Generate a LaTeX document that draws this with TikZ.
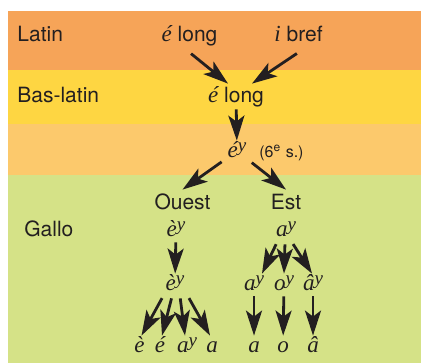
\documentclass[tikz,border=0pt]{standalone}
\usepackage{fontspec}
\setmainfont{TeX Gyre Heros}
\newfontfamily\formfont{Liberation Serif}
\usetikzlibrary{arrows.meta}

\definecolor{ink}{RGB}{35,31,32}
\definecolor{latinband}{RGB}{246,164,88}
\definecolor{baslatinband}{RGB}{254,214,66}
\definecolor{midband}{RGB}{252,201,108}
\definecolor{galloband}{RGB}{213,226,135}

\newcommand\vform[1]{{\formfont\itshape\fontsize{11.5}{13}\selectfont #1}}
\newcommand\yup{\raisebox{2.6pt}{\fontsize{9.5}{9.5}\selectfont y}}

\tikzset{
  stage/.style={font=\fontsize{10.5}{12}\selectfont, text=ink, anchor=base west, inner sep=0pt},
  word/.style={font=\fontsize{10.5}{12}\selectfont, text=ink, anchor=base,
    text height=7.5pt, text depth=0pt, inner sep=2pt},
  form/.style={text=ink, anchor=base, text height=6pt, text depth=0pt, inner sep=2pt},
  arr/.style={draw=ink, line width=1.4pt, shorten <=1pt,
    -{Stealth[length=12.5pt,width=8pt,inset=3pt]}}
}

\begin{document}
\begin{tikzpicture}[x=.5pt,y=-.5pt]

        \useasboundingbox (0,0) rectangle (421,363);
        \fill[latinband]    (8,11)  rectangle (421,70);
        \fill[baslatinband] (8,70)  rectangle (421,124);
        \fill[midband]      (8,124) rectangle (421,175);
        \fill[galloband]    (8,175) rectangle (421,363);

        % periods
        \node[stage] (latin)    at (17,42)  {Latin};
        \node[stage] (baslatin) at (17,103) {Bas-latin};
        \node[stage] (gallo)    at (24,236) {Gallo};

        \node[word] (elong1) at (189.5,42) {\vform{é} long};
        \node[word] (ibref)  at (298.5,42) {\vform{i} bref};
        \node[word] (elong2) at (236,103)  {\vform{é} long};
        \node[form] (ey)     at (237,157)  {\vform{é\yup}};
        \node[anchor=base west, text=ink, font=\fontsize{8}{10}\selectfont, inner sep=0pt]
          (siecle) at (259,157) {(6\textsuperscript{e} s.)};
        \node[word] (ouest) at (182.5,209) {Ouest};
        \node[word] (est)   at (286,209)   {Est};

        % Ouest
        \node[form] (ey1) at (176,236) {\vform{è\yup}};
        \node[form] (ey2) at (175,290) {\vform{è\yup}};
        \node[form] (ee)  at (139.5,352) {\vform{è}};
        \node[form] (ea)  at (160,352)   {\vform{é}};
        \node[form] (eay) at (187,352)   {\vform{a\yup}};
        \node[form] (eaa) at (212,352)   {\vform{a}};

        % Est
        \node[form] (ay1) at (286,236) {\vform{a\yup}};
        \node[form] (ay2) at (254,290) {\vform{a\yup}};
        \node[form] (oy2) at (284,290) {\vform{o\yup}};
        \node[form] (hy2) at (313,290) {\vform{â\yup}};
        \node[form] (aa)  at (254,352) {\vform{a}};
        \node[form] (oo)  at (283,352) {\vform{o}};
        \node[form] (hh)  at (313,352) {\vform{â}};

        \begin{scope}[every edge/.style={arr}]
          \path ([yshift=-3pt]elong1.south) edge ([xshift=-4pt]elong2.north);
          \path ([yshift=-3pt]ibref.south)  edge ([xshift=8pt]elong2.north);
          \path (elong2) edge (ey);
          \path (ey)  edge (ouest.north);
          \path (ey)  edge (est.north);
          \path (ey1) edge (ey2);
          \path ([xshift=-6pt,yshift=-1pt]ey2.south)  edge ([xshift=1pt]ee.north);
          \path ([xshift=-1.5pt,yshift=-1pt]ey2.south) edge ([xshift=1pt]ea.north);
          \path ([xshift=2.5pt,yshift=-1pt]ey2.south)  edge ([xshift=-1pt]eay.north);
          \path ([xshift=6.5pt,yshift=-1pt]ey2.south)  edge ([xshift=-1pt]eaa.north);
          \path ([xshift=-4.5pt,yshift=-1pt]ay1.south) edge ([xshift=4pt]ay2.north);
          \path ([xshift=-0.5pt,yshift=-1pt]ay1.south) edge (oy2.north);
          \path ([xshift=3pt,yshift=-1pt]ay1.south)    edge ([xshift=-0.5pt]hy2.north);
          \path (ay2) edge (aa);
          \path (oy2) edge (oo);
          \path (hy2) edge (hh);
        \end{scope}

      \end{tikzpicture}
\end{document}
